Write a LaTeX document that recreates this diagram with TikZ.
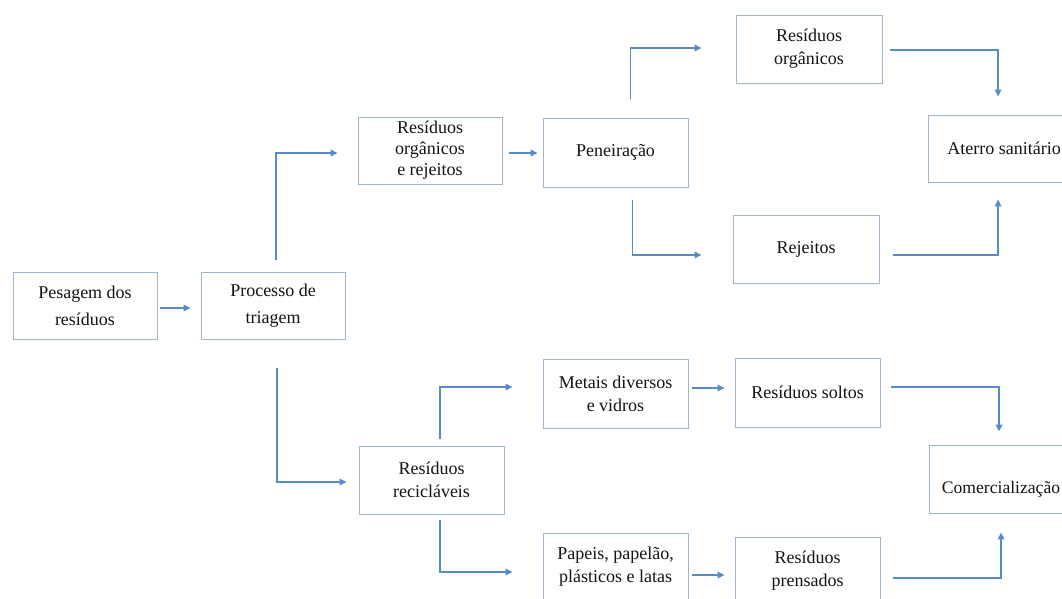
\documentclass[tikz,border=0pt]{standalone}
\usepackage{fontspec}
\setmainfont{Liberation Serif}
\usetikzlibrary{arrows.meta}
\definecolor{boxline}{RGB}{160,182,205}
\definecolor{arrowblue}{RGB}{88,138,198}
\definecolor{txt}{RGB}{20,20,20}
\tikzset{
  pbox/.style={draw=boxline, line width=0.9pt, inner sep=0pt, align=center, text=txt,
    font=\fontsize{18}{23}\selectfont},
  arr/.style={draw=arrowblue, line width=1.6pt,
    -{Triangle[length=7pt,width=6.5pt]}},
}
\begin{document}
\begin{tikzpicture}[x=1pt,y=-1pt]
\useasboundingbox (0,0) rectangle (1062,599);
\clip (0,0) rectangle (1062,599);
\fill[white] (0,0) rectangle (1062,599);
% boxes
\node[pbox, minimum width=144pt, minimum height=67pt, font=\fontsize{18}{27}\selectfont] (pes) at (85,305.5) {Pesagem dos\\resíduos};
\node[pbox, minimum width=144pt, minimum height=67pt, font=\fontsize{18}{27}\selectfont] (proc) at (273,305.5) {Processo de\\triagem};
\node[pbox, minimum width=144pt, minimum height=67pt, font=\fontsize{18}{21}\selectfont] (org) at (430,150.5) {Resíduos\\orgânicos\\e rejeitos};
\node[pbox, minimum width=145pt, minimum height=69pt] (pen) at (615.5,152.5) {Peneiração};
\node[pbox, minimum width=146pt, minimum height=68pt] (ro) at (809,49) {Resíduos\\orgânicos};
\node[pbox, minimum width=146pt, minimum height=68pt] (rej) at (806,249) {Rejeitos};
\node[pbox, minimum width=152pt, minimum height=67pt] (ate) at (1004,148.5) {Aterro sanitário};
\node[pbox, minimum width=145pt, minimum height=68pt] (rec) at (431.5,480) {Resíduos\\recicláveis};
\node[pbox, minimum width=145pt, minimum height=69pt] (met) at (615.5,393.5) {Metais diversos\\e vidros};
\node[pbox, minimum width=145pt, minimum height=68pt] (pap) at (615.5,567) {Papeis, papelão,\\plásticos e latas};
\node[pbox, minimum width=145pt, minimum height=69pt] (sol) at (807.5,392.5) {Resíduos soltos};
\node[pbox, minimum width=145pt, minimum height=68pt] (pre) at (807.5,571) {Resíduos\\prensados};
\node[pbox, minimum width=144pt, minimum height=68pt, text height=28pt, text depth=0pt,
  font=\fontsize{17.6}{23}\selectfont] (com) at (1001,479) {Comercialização};
% connectors
\draw[arr] ([xshift=3pt,yshift=-2.5pt]pes.east) -- ([xshift=-10pt,yshift=-2.5pt]proc.west);
\draw[arr] ([xshift=3pt,yshift=12pt]proc.north) |- ([xshift=-20pt,yshift=-2.5pt]org.west);
\draw[arr] ([xshift=4pt,yshift=-29pt]proc.south) |- ([xshift=-12pt,yshift=-2pt]rec.west);
\draw[arr] ([xshift=7pt,yshift=-2.5pt]org.east) -- ([xshift=-5pt,yshift=-0.5pt]pen.west);
\draw[arr] ([xshift=15pt,yshift=19pt]pen.north) |- ([xshift=-34pt,yshift=1pt]ro.west);
\draw[arr] ([xshift=17pt,yshift=-13pt]pen.south) |- ([xshift=-31pt,yshift=-6pt]rej.west);
\draw[arr] ([xshift=8pt,yshift=-1pt]ro.east) -| ([xshift=-6pt,yshift=18pt]ate.north);
\draw[arr] ([xshift=14pt,yshift=-6pt]rej.east) -| ([xshift=-6pt,yshift=-17pt]ate.south);
\draw[arr] ([xshift=8.5pt,yshift=7pt]rec.north) |- ([xshift=-30pt,yshift=6.5pt]met.west);
\draw[arr] ([xshift=8.5pt,yshift=-6pt]rec.south) |- ([xshift=-30pt,yshift=-5pt]pap.west);
\draw[arr] ([xshift=4pt,yshift=5.5pt]met.east) -- ([xshift=-10pt,yshift=4.5pt]sol.west);
\draw[arr] ([xshift=4pt,yshift=-8pt]pap.east) -- ([xshift=-10pt,yshift=-4pt]pre.west);
\draw[arr] ([xshift=11pt,yshift=5.5pt]sol.east) -| ([xshift=-2pt,yshift=13pt]com.north);
\draw[arr] ([xshift=13pt,yshift=-7pt]pre.east) -| ([xshift=0pt,yshift=-19pt]com.south);
\end{tikzpicture}
\end{document}
